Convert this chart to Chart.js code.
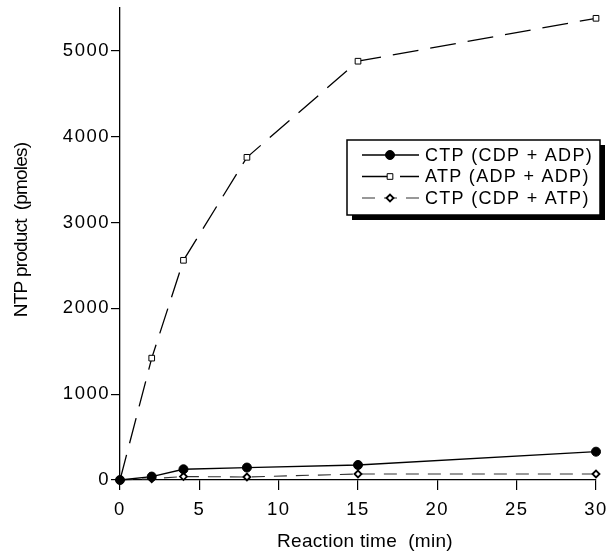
<!DOCTYPE html>
<html>
<head>
<meta charset="utf-8">
<script src="https://cdn.jsdelivr.net/npm/chart.js@4"></script>
<style>
  html, body { margin: 0; padding: 0; background: #fff; }
  #wrap { width: 612px; height: 556px; }
</style>
</head>
<body>
<div id="wrap"><canvas id="grafico" width="612" height="556"></canvas></div>
<script>
// tempos de reação (min)
const tempos = [0, 2, 4, 8, 15, 30];
// NTP produto (pmoles)
const ctpCdpAdp = [0, 40, 125, 145, 175, 330];
const atpAdpAdp = [0, 1420, 2560, 3760, 4880, 5380];
const ctpCdpAtp = [0, 15, 40, 35, 70, 70];
const nomes = ['CTP (CDP + ADP)', 'ATP (ADP + ADP)', 'CTP (CDP + ATP)'];
const ticksY = [0, 1000, 2000, 3000, 4000, 5000];
const ticksX = [0, 5, 10, 15, 20, 25, 30];
const tituloX = 'Reaction time  (min)';
const tituloY = 'NTP product  (pmoles)';

const FONTE = '"Liberation Sans", Arial, sans-serif';
const ESPACO = '1.5px';

function pontos(ys) {
    return tempos.map((t, i) => ({ x: t, y: ys[i] }));
}

// espaçamento das letras parecido com o original
const espacamento = {
    id: 'espacamento',
    beforeLayout(chart) { chart.ctx.letterSpacing = ESPACO; },
    beforeDraw(chart) { chart.ctx.letterSpacing = ESPACO; }
};

// títulos dos eixos
const titulos = {
    id: 'titulos',
    afterDraw(chart) {
        const ctx = chart.ctx;
        ctx.save();
        ctx.fillStyle = '#000';
        ctx.textAlign = 'center';
        ctx.textBaseline = 'middle';
        ctx.font = '19px ' + FONTE;
        ctx.letterSpacing = '0.3px';
        ctx.fillText(tituloX, 365, 542);
        ctx.translate(22, 230);
        ctx.rotate(-Math.PI / 2);
        ctx.letterSpacing = '-0.8px';
        ctx.fillText(tituloY, 0, 0);
        ctx.restore();
    }
};

// caixa de legenda com sombra
const legendaCaixa = {
    id: 'legendaCaixa',
    afterDraw(chart) {
        const ctx = chart.ctx;
        const x = 347, y = 140, w = 253, h = 75;
        ctx.save();
        ctx.fillStyle = '#000';
        ctx.fillRect(x + 5, y + 5, w, h);
        ctx.fillStyle = '#fff';
        ctx.fillRect(x, y, w, h);
        ctx.strokeStyle = '#000';
        ctx.lineWidth = 1.5;
        ctx.strokeRect(x, y, w, h);

        chart.data.datasets.forEach((ds, i) => {
            const cy = y + 15 + i * 21.5;
            ctx.save();
            ctx.strokeStyle = ds.borderColor;
            ctx.lineWidth = ds.borderWidth;
            ctx.setLineDash(ds.borderDash || []);
            ctx.beginPath();
            ctx.moveTo(362, cy);
            ctx.lineTo(419, cy);
            ctx.stroke();
            ctx.restore();

            const opts = chart.getDatasetMeta(i).data[1].options;
            ctx.save();
            ctx.fillStyle = opts.backgroundColor;
            ctx.strokeStyle = opts.borderColor;
            ctx.lineWidth = opts.borderWidth;
            ctx.setLineDash([]);
            Chart.helpers.drawPoint(ctx, opts, 390, cy);
            ctx.restore();

            ctx.fillStyle = '#000';
            ctx.font = '18px ' + FONTE;
            ctx.letterSpacing = '1.3px';
            ctx.textBaseline = 'middle';
            ctx.textAlign = 'left';
            ctx.fillText(ds.label, 425, cy + 1);
        });
        ctx.restore();
    }
};

const ctx = document.getElementById('grafico').getContext('2d');
const grafico = new Chart(ctx, {
    type: 'scatter',
    data: {
        datasets: [{
            label: nomes[0],
            data: pontos(ctpCdpAdp),
            showLine: true,
            borderColor: '#000',
            backgroundColor: '#000',
            borderWidth: 1.3,
            pointStyle: 'circle',
            pointRadius: 4.5,
            pointBorderWidth: 1,
            clip: false,
            order: 1
        }, {
            label: nomes[1],
            data: pontos(atpAdpAdp),
            showLine: true,
            borderColor: '#000',
            backgroundColor: '#fff',
            pointBackgroundColor: '#fff',
            borderWidth: 1.3,
            borderDash: [26, 12],
            pointStyle: 'rect',
            pointRadius: 4,
            pointBorderWidth: 1,
            clip: false,
            order: 2
        }, {
            label: nomes[2],
            data: pontos(ctpCdpAtp),
            showLine: true,
            borderColor: '#333',
            backgroundColor: '#fff',
            pointBackgroundColor: '#fff',
            borderWidth: 1.1,
            borderDash: [13, 9],
            pointStyle: 'rectRot',
            pointRadius: 3.5,
            pointBorderWidth: 1.8,
            pointBorderColor: '#000',
            clip: false,
            order: 3
        }]
    },
    options: {
        responsive: false,
        animation: false,
        devicePixelRatio: 1,
        layout: { padding: { left: 0, right: 16, top: 8, bottom: 0 } },
        plugins: {
            legend: { display: false },
            tooltip: { enabled: false }
        },
        scales: {
            x: {
                type: 'linear',
                min: 0,
                max: 30,
                ticks: {
                    color: '#000',
                    font: { family: FONTE, size: 18.5 },
                    padding: 9,
                    maxRotation: 0,
                    autoSkip: false,
                    callback: v => String(v)
                },
                afterBuildTicks(scale) {
                    scale.ticks = ticksX.map(v => ({ value: v }));
                },
                grid: {
                    drawOnChartArea: false,
                    drawTicks: true,
                    tickLength: 10,
                    color: '#000',
                    lineWidth: 1.2
                },
                border: { color: '#000', width: 1.3 },
                title: { display: false },
                afterFit(scale) {
                    scale.height = 76;
                    scale.paddingLeft = 0;
                    scale.paddingRight = 0;
                }
            },
            y: {
                type: 'linear',
                min: 0,
                max: 5500,
                ticks: {
                    color: '#000',
                    font: { family: FONTE, size: 18.5 },
                    padding: 1,
                    autoSkip: false,
                    callback: v => String(v)
                },
                afterBuildTicks(scale) {
                    scale.ticks = ticksY.map(v => ({ value: v }));
                },
                grid: {
                    drawOnChartArea: false,
                    drawTicks: true,
                    tickLength: 9,
                    color: '#000',
                    lineWidth: 1.2
                },
                border: { color: '#000', width: 1.3 },
                title: { display: false },
                afterFit(scale) {
                    scale.width = 120;
                    scale.paddingTop = 0;
                    scale.paddingBottom = 0;
                }
            }
        }
    },
    plugins: [espacamento, titulos, legendaCaixa]
});
</script>
</body>
</html>
